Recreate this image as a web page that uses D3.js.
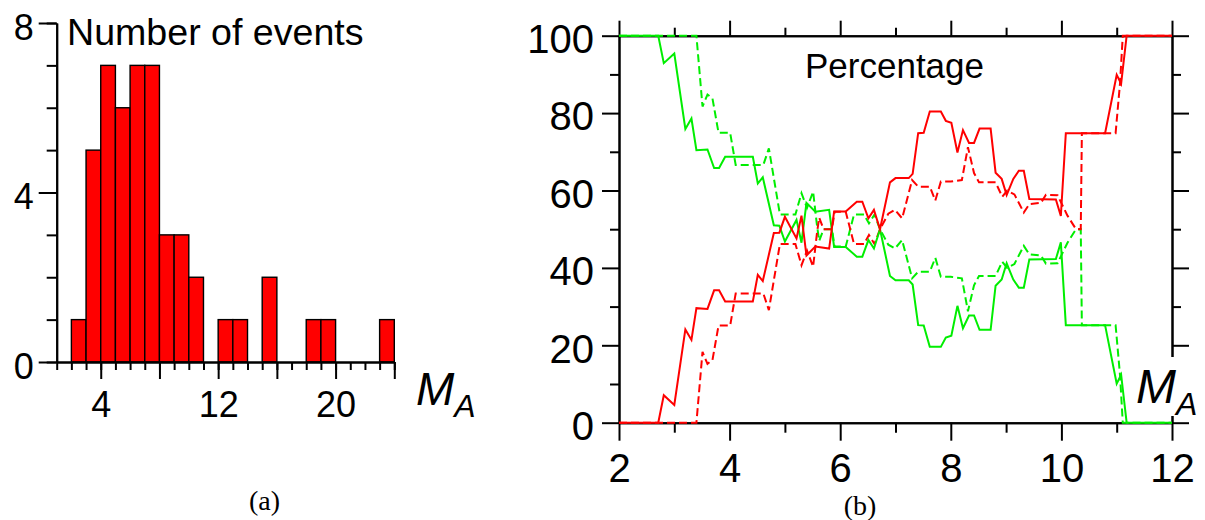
<!DOCTYPE html>
<html><head><meta charset="utf-8">
<script src="https://cdn.jsdelivr.net/npm/d3@7"></script>
<style>
html,body{margin:0;padding:0;background:#fff;}
svg{display:block;}
text{fill:#000;}
</style></head><body><svg id="c" width="1205" height="520"></svg>
<script>
// ---------- (a) histogram data ----------
const histBinStart = [2,3,4,5,6,7,8,9,10,11,12,13,14,15,16,17,18,19,20,21,22,23];
const histCounts   = [1,5,7,6,7,7,3,3,2,0,1,1,0,2,0,0,1,1,0,0,0,1];
const histXMajor = [4,8,12,16,20,24];
const histXLabels = [4,12,20];
const histYMajor = [0,4,8];

// ---------- (b) percentage data ----------
const solidM = [2,2.71,2.81,3.0,3.2,3.31,3.4,3.6,3.72,3.81,3.92,4.42,4.51,4.6,4.8,4.9,5.0,5.21,5.3,5.39,5.55,5.8,5.89,6.1,6.3,6.4,6.51,6.61,6.72,6.9,7.0,7.24,7.31,7.41,7.51,7.62,7.82,7.91,8.01,8.12,8.22,8.33,8.42,8.52,8.72,8.81,8.92,9.01,9.13,9.23,9.32,9.42,9.9,9.99,10.08,10.79,11.0,11.08,11.18,12];
const greenSolid = [100,100,92.9,95.4,75.9,78.6,70.4,70.6,65.8,65.8,68.7,68.7,61.8,63.4,51,50.9,46.8,52.4,46.5,56.8,54.5,55,45.4,45.4,42.9,42.9,47.2,45,50,37.9,36.8,36.8,35.7,25.2,25.1,19.6,19.6,22,22.5,30.2,24.4,27.7,27.7,24,24,35.4,37,41.2,37,34.9,34.9,42.2,42.3,46.6,25.2,25.2,10.1,12.4,0,0];
const redSolid = [0,0,7.1,4.6,24.1,21.4,29.6,29.4,34.2,34.2,31.3,31.3,38.2,36.6,49,49.1,53.2,47.6,53.5,43.2,45.5,45,54.6,54.6,57.1,57.1,52.8,55,50,62.1,63.2,63.2,64.3,74.8,74.9,80.4,80.4,78,77.5,69.8,75.6,72.3,72.3,76,76,64.6,63,58.8,63,65.1,65.1,57.8,57.7,53.4,74.8,74.8,89.9,87.6,100,100];
const dashedM = [2,3.40,3.51,3.60,3.69,3.80,4.01,4.11,4.61,4.71,4.91,5.19,5.30,5.40,5.51,5.58,5.62,5.70,5.85,5.90,6.10,6.25,6.43,6.52,6.62,6.72,6.87,6.99,7.12,7.30,7.41,7.62,7.72,7.82,8.00,8.20,8.31,8.42,8.51,8.81,8.93,9.02,9.15,9.32,9.42,9.63,9.72,9.93,10.11,10.26,10.35,10.37,10.98,11.06,11.11,12];
const greenDashed = [100,100,81.7,84.8,83.8,74.9,74.9,66.6,66.6,70.9,53.8,53.8,59.3,55.5,59.7,51,47,50,50,45.5,45.5,53.8,53.8,51.5,53.8,50,46,45,47.2,37.3,39,39,42.6,37.7,37.7,37.3,28.8,35.5,37.9,37.9,41.6,40,41,45.7,43.5,43.2,41.1,41.2,46.5,49.9,50,25.2,25.2,12.3,0,0];
const redDashed = [0,0,18.3,15.2,16.2,25.1,25.1,33.4,33.4,29.1,46.2,46.2,40.7,44.5,40.3,49,53,50,50,54.5,54.5,46.2,46.2,48.5,46.2,50,54,55,52.8,62.7,61,61,57.4,62.3,62.3,62.7,71.2,64.5,62.1,62.1,58.4,60,59,54.3,56.5,56.8,58.9,58.8,53.5,50.1,50,74.8,74.8,87.7,100,100];
const pctXMajor = [2,4,6,8,10,12];
const pctXMinor = [3,5,7,9,11];
const pctYMajor = [0,20,40,60,80,100];
const pctYMinor = [10,30,50,70,90];

const RED = "#ff0000", GREEN = "#00ee00";
const SANS = "'Liberation Sans', Arial, sans-serif";
const SERIF = "'Liberation Serif', 'Times New Roman', serif";
const svg = d3.select("#c");
svg.append("rect").attr("width",1205).attr("height",520).attr("fill","#fff");

function styleAxis(g, fs){
  g.selectAll("path.domain").attr("stroke","#000").attr("stroke-width",2);
  g.selectAll(".tick line").attr("stroke","#000").attr("stroke-width",2);
  g.selectAll(".tick text").style("font-size",fs+"px").style("font-family",SANS).attr("fill","#000");
}
function txt(g, x, y, size, s, family){
  return g.append("text").attr("x",x).attr("y",y).style("font-size",size+"px")
    .style("font-family",family||SANS).text(s);
}

// ================= (a) =================
const xH = d3.scaleLinear([1,24],[56.7,394.3]);
const yH = d3.scaleLinear([0,8],[362,23]);
const gA = svg.append("g");

gA.selectAll("rect.bar").data(histBinStart.map((b,i)=>({b,c:histCounts[i]})).filter(d=>d.c>0))
  .enter().append("rect")
  .attr("x",d=>xH(d.b)).attr("width",d=>xH(d.b+1)-xH(d.b))
  .attr("y",d=>yH(d.c)).attr("height",d=>yH(0)-yH(d.c))
  .attr("fill",RED).attr("stroke","#000").attr("stroke-width",1.4);

const axHminor = gA.append("g").attr("transform",`translate(0,${yH(0)})`)
  .call(d3.axisBottom(xH).tickValues(d3.range(1,25)).tickSize(8).tickSizeOuter(0).tickFormat(""));
styleAxis(axHminor,36);
const axHmajor = gA.append("g").attr("transform",`translate(0,${yH(0)})`)
  .call(d3.axisBottom(xH).tickValues(histXMajor).tickSize(17).tickSizeOuter(0).tickPadding(12)
    .tickFormat(d=>histXLabels.includes(d)?d:""));
styleAxis(axHmajor,36);

const ayHminor = gA.append("g").attr("transform",`translate(${xH(1)},0)`)
  .call(d3.axisLeft(yH).tickValues(d3.range(0,9)).tickSize(10).tickSizeOuter(0).tickFormat(""));
styleAxis(ayHminor,36);
const ayHmajor = gA.append("g").attr("transform",`translate(${xH(1)},0)`)
  .call(d3.axisLeft(yH).tickValues(histYMajor).tickSize(18).tickSizeOuter(0).tickPadding(5));
styleAxis(ayHmajor,36);
ayHmajor.selectAll(".tick text").attr("dy","0.45em");

txt(gA, 67, 45, 37.6, "Number of events");
const maA = gA.append("text").attr("x",416).attr("y",405).style("font-style","italic")
  .style("font-size","46px").style("font-family",SANS);
maA.append("tspan").text("M");
maA.append("tspan").style("font-size","32px").attr("dy",12).text("A");
txt(gA, 264.5, 510, 28, "(a)", SERIF).attr("text-anchor","middle");

// ================= (b) =================
const xP = d3.scaleLinear([2,12],[619,1172]);
const yP = d3.scaleLinear([0,100],[422.7,35.7]);
const gB = svg.append("g");

function addAxis(axisFn, scale, vals, size, transform, fmt, pad){
  const a = axisFn(scale).tickValues(vals).tickSize(size).tickSizeOuter(0).tickPadding(pad||3)
    .tickFormat(fmt || "");
  const g = gB.append("g").attr("transform",transform).call(a);
  styleAxis(g,40);
  return g;
}
// bottom
addAxis(d3.axisBottom, xP, pctXMinor, 10, `translate(0,${yP(0)})`);
addAxis(d3.axisBottom, xP, pctXMajor, 18, `translate(0,${yP(0)})`, d=>d, 13);
// top
addAxis(d3.axisTop, xP, pctXMinor, 8, `translate(0,${yP(100)})`);
addAxis(d3.axisTop, xP, pctXMajor, 15, `translate(0,${yP(100)})`);
// left
addAxis(d3.axisLeft, yP, pctYMinor, 9, `translate(${xP(2)},0)`);
const ayL = addAxis(d3.axisLeft, yP, pctYMajor, 17, `translate(${xP(2)},0)`, d=>d, 8);
ayL.selectAll(".tick text").attr("dy","0.42em");
// right
addAxis(d3.axisRight, yP, pctYMinor, 9, `translate(${xP(12)},0)`);
addAxis(d3.axisRight, yP, pctYMajor, 17, `translate(${xP(12)},0)`);

const lineGen = d3.line().x(d=>xP(d[0])).y(d=>yP(d[1]));
function drawLine(xs, ys, color, dashed){
  gB.append("path").datum(xs.map((m,i)=>[m,ys[i]]))
    .attr("d",lineGen).attr("fill","none").attr("stroke",color).attr("stroke-width",2)
    .attr("stroke-linejoin","miter").attr("stroke-dasharray",dashed?"8,4":null);
}
drawLine(dashedM, greenDashed, GREEN, true);
drawLine(dashedM, redDashed, RED, true);
drawLine(solidM, greenSolid, GREEN, false);
drawLine(solidM, redSolid, RED, false);

txt(gB, 805, 78, 35, "Percentage");

// M_A label with white backing over the right axis
gB.append("rect").attr("x",1160).attr("y",357).attr("width",30).attr("height",59).attr("fill","#fff");
const maB = gB.append("text").attr("x",1136).attr("y",403).style("font-style","italic")
  .style("font-size","48px").style("font-family",SANS);
maB.append("tspan").text("M");
maB.append("tspan").style("font-size","32px").attr("dy",12).text("A");
txt(gB, 860, 515, 28, "(b)", SERIF).attr("text-anchor","middle");
</script></body></html>
